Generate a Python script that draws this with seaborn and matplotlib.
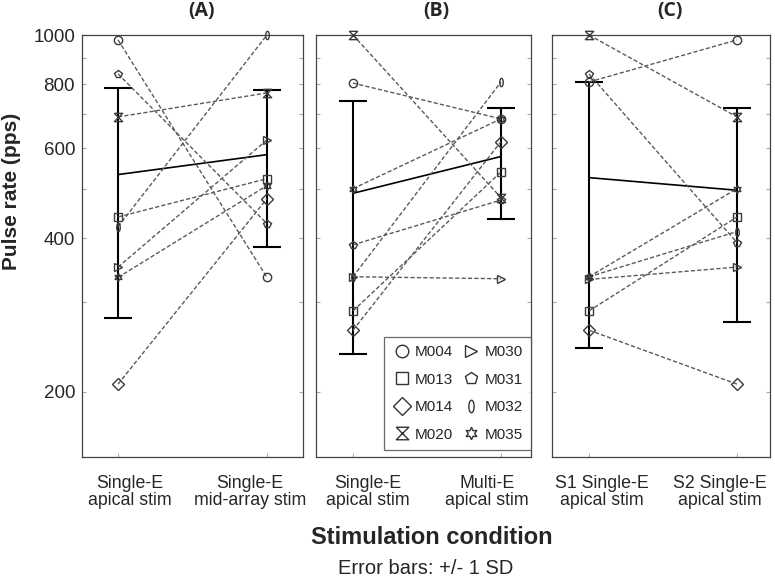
import numpy as np
import pandas as pd
import matplotlib
matplotlib.use("Agg")
import matplotlib.pyplot as plt
import seaborn as sns
from matplotlib.lines import Line2D
from matplotlib.ticker import FixedLocator, NullFormatter

# ---------------- data ----------------
subjects = ["M004", "M013", "M014", "M020", "M030", "M031", "M032", "M035"]

a_labels = ["Single-E\napical stim", "Single-E\nmid-array stim"]
a_cond1 = [978, 440, 207, 691, 351, 839, 421, 335]
a_cond2 = [335, 523, 478, 770, 623, 427, 1000, 507]

b_labels = ["Single-E\napical stim", "Multi-E\napical stim"]
b_cond1 = [805, 288, 264, 1000, 336, 388, 336, 500]
b_cond2 = [685, 539, 618, 480, 333, 475, 809, 685]

c_labels = ["S1 Single-E\napical stim", "S2 Single-E\napical stim"]
c_cond1 = [809, 288, 264, 1000, 332, 839, 336, 336]
c_cond2 = [978, 440, 207, 691, 351, 392, 412, 500]

panel_titles = ["(A)", "(B)", "(C)"]
y_ticks = [200, 400, 600, 800, 1000]
y_minor = [300, 500, 700, 900]

# ---------------- style ----------------
sns.set_theme(style="white")
plt.rcParams["font.family"] = ["Liberation Sans", "DejaVu Sans"]

t = np.linspace(0, 2 * np.pi, 40)
ellipse = list(zip(0.42 * np.cos(t), np.sin(t)))
hourglass = [(-1, 1), (1, 1), (-1, -1), (1, -1), (-1, 1)]
marker_map = {
    "M004": "o", "M013": "s", "M014": "D", "M020": hourglass,
    "M030": ">", "M031": "p", "M032": ellipse, "M035": (6, 1, 0),
}
dash_map = {s: (3, 1.6) for s in subjects}
color_map = {s: "#5a5a5a" for s in subjects}

W, H = 775, 579
fig = plt.figure(figsize=(W / 100, H / 100), dpi=100)
fig.patch.set_facecolor("white")

ax_top, ax_bot = 35, 457
boxes = [(82, 303), (316, 531), (552, 770)]
xlims = [(-0.242, 1.242), (-0.25, 1.203), (-0.25, 1.223)]
label_pos = [(0.081, 0.886), (0.101, 0.905), (0.088, 0.885)]
panels = [(a_labels, a_cond1, a_cond2), (b_labels, b_cond1, b_cond2), (c_labels, c_cond1, c_cond2)]
title_x = [202, 436, 670]

axes = []
for i, ((l, r), (labels, c1, c2)) in enumerate(zip(boxes, panels)):
    ax = fig.add_axes([l / W, (H - ax_bot) / H, (r - l) / W, (ax_bot - ax_top) / H])
    axes.append(ax)
    df = pd.DataFrame({
        "subject": subjects * 2,
        "x": [0] * len(subjects) + [1] * len(subjects),
        "rate": list(c1) + list(c2),
    })
    sns.lineplot(data=df, x="x", y="rate", hue="subject", style="subject",
                 markers=marker_map, dashes=dash_map, palette=color_map,
                 errorbar=None, legend=False, ax=ax, linewidth=1.0,
                 markersize=6, markeredgecolor="#3a3a3a", markeredgewidth=1.0,
                 zorder=3)
    for ln in ax.lines:
        ln.set_markerfacecolor("none")
        ln.set_clip_on(False)
    v1, v2 = np.array(c1, float), np.array(c2, float)
    means = [v1.mean(), v2.mean()]
    sds = [v1.std(), v2.std()]
    ax.errorbar([0, 1], means, yerr=sds, color="black", linewidth=1.2,
                elinewidth=1.5, capsize=10, capthick=1.5, zorder=2)
    ax.set_yscale("log")
    ax.set_ylim(149, 1000)
    ax.set_xlim(*xlims[i])
    ax.set_xticks([0, 1])
    ax.set_xticklabels(["", ""])
    for lx, lab in zip(label_pos[i], labels):
        ax.text(lx, -0.042, lab, transform=ax.get_xaxis_transform(), ha="center",
                va="top", fontsize=12.8, linespacing=1.0)
    ax.yaxis.set_major_locator(FixedLocator(y_ticks))
    ax.yaxis.set_minor_locator(FixedLocator(y_minor))
    ax.yaxis.set_minor_formatter(NullFormatter())
    if i == 0:
        ax.set_yticklabels([str(v) for v in y_ticks], fontsize=13.5)
    else:
        ax.set_yticklabels([])
    ax.tick_params(axis="both", which="both", direction="in", color="#aaaaaa",
                   left=True, right=True, bottom=True, top=False, length=3, width=0.8)
    ax.tick_params(axis="y", which="major", pad=5)
    ax.set_xlabel("")
    ax.set_ylabel("")
    for sp in ax.spines.values():
        sp.set_color("#444444")
        sp.set_linewidth(0.9)
    fig.text(title_x[i] / W, 1 - 11 / H, panel_titles[i], ha="center", va="center",
             fontsize=14, fontweight="bold", family=["Open Sans", "DejaVu Sans"])

handles = [Line2D([], [], marker=marker_map[s], linestyle="none", markersize=9,
                  markeredgecolor="#333333", markerfacecolor="none", markeredgewidth=1.0)
           for s in subjects]
leg = axes[1].legend(handles, subjects, ncol=2, loc="lower right",
                     bbox_to_anchor=(531 / W, 1 - 450 / H), bbox_transform=fig.transFigure,
                     borderaxespad=0, frameon=True, fancybox=False, fontsize=11,
                     labelspacing=0.88, handletextpad=0.25, columnspacing=0.6,
                     handlelength=1.2, borderpad=0.55)
leg.get_frame().set_edgecolor("#444444")
leg.get_frame().set_linewidth(0.9)
leg.set_zorder(10)

fig.text(12 / W, 1 - 191 / H, "Pulse rate (pps)", rotation=90, ha="center", va="center",
         fontsize=15, fontweight="bold")
fig.text(432 / W, 1 - 538 / H, "Stimulation condition", ha="center", va="center",
         fontsize=17, fontweight="bold")
fig.text(426 / W, 1 - 568 / H, "Error bars: +/- 1 SD", ha="center", va="center",
         fontsize=14.5)

fig.savefig("out.png", dpi=100, facecolor="white")
